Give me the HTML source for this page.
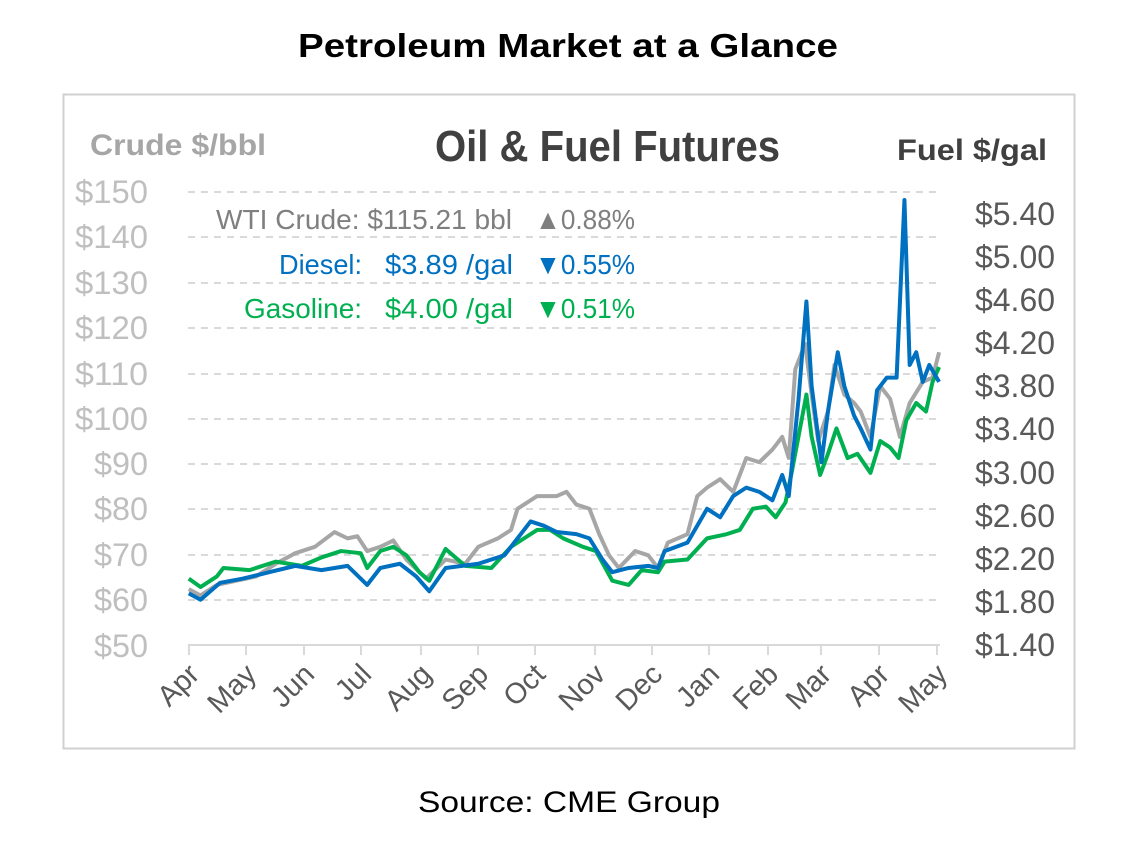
<!DOCTYPE html>
<html><head><meta charset="utf-8"><style>
body{margin:0;background:#fff;width:1147px;height:847px;overflow:hidden;font-family:"Liberation Sans",sans-serif}
</style></head><body>
<svg width="1147" height="847" xmlns="http://www.w3.org/2000/svg" style="position:absolute;left:0;top:0">
<text x="298" y="57" textLength="540" lengthAdjust="spacingAndGlyphs" font-family="Liberation Sans" font-weight="bold" font-size="33" fill="#000">Petroleum Market at a Glance</text>
<rect x="63.5" y="94.5" width="1011" height="654" fill="#fff" stroke="#d0d0d0" stroke-width="2"/>
<text x="435" y="161" textLength="345" lengthAdjust="spacingAndGlyphs" font-family="Liberation Sans" font-weight="bold" font-size="44" fill="#404040">Oil &amp; Fuel Futures</text>
<text x="90" y="155" textLength="176" lengthAdjust="spacingAndGlyphs" font-family="Liberation Sans" font-weight="bold" font-size="30" fill="#a6a6a6">Crude $/bbl</text>
<text x="897" y="160" textLength="150" lengthAdjust="spacingAndGlyphs" font-family="Liberation Sans" font-weight="bold" font-size="30" fill="#404040">Fuel $/gal</text>
<g stroke="#d9d9d9" stroke-width="2" stroke-dasharray="7,6">
<line x1="188" x2="940" y1="192" y2="192"/><line x1="188" x2="940" y1="237" y2="237"/><line x1="188" x2="940" y1="283" y2="283"/><line x1="188" x2="940" y1="328" y2="328"/><line x1="188" x2="940" y1="374" y2="374"/><line x1="188" x2="940" y1="419" y2="419"/><line x1="188" x2="940" y1="464" y2="464"/><line x1="188" x2="940" y1="509" y2="509"/><line x1="188" x2="940" y1="555" y2="555"/><line x1="188" x2="940" y1="600" y2="600"/>
</g>
<line x1="188" x2="940" y1="645" y2="645" stroke="#d9d9d9" stroke-width="2"/>
<g stroke="#d9d9d9" stroke-width="2">
<line x1="189" x2="189" y1="645" y2="655"/><line x1="246" x2="246" y1="645" y2="655"/><line x1="304" x2="304" y1="645" y2="655"/><line x1="361" x2="361" y1="645" y2="655"/><line x1="421" x2="421" y1="645" y2="655"/><line x1="478" x2="478" y1="645" y2="655"/><line x1="535" x2="535" y1="645" y2="655"/><line x1="595" x2="595" y1="645" y2="655"/><line x1="652" x2="652" y1="645" y2="655"/><line x1="709" x2="709" y1="645" y2="655"/><line x1="768" x2="768" y1="645" y2="655"/><line x1="821" x2="821" y1="645" y2="655"/><line x1="879" x2="879" y1="645" y2="655"/><line x1="937" x2="937" y1="645" y2="655"/>
</g>
<g font-family="Liberation Sans" font-size="32" fill="#bfbfbf">
<text x="75" y="203" textLength="73" lengthAdjust="spacingAndGlyphs">$150</text><text x="75" y="248" textLength="73" lengthAdjust="spacingAndGlyphs">$140</text><text x="75" y="294" textLength="73" lengthAdjust="spacingAndGlyphs">$130</text><text x="75" y="339" textLength="73" lengthAdjust="spacingAndGlyphs">$120</text><text x="75" y="385" textLength="73" lengthAdjust="spacingAndGlyphs">$110</text><text x="75" y="430" textLength="73" lengthAdjust="spacingAndGlyphs">$100</text>
<text x="94" y="475" textLength="54" lengthAdjust="spacingAndGlyphs">$90</text><text x="94" y="520" textLength="54" lengthAdjust="spacingAndGlyphs">$80</text><text x="94" y="566" textLength="54" lengthAdjust="spacingAndGlyphs">$70</text><text x="94" y="611" textLength="54" lengthAdjust="spacingAndGlyphs">$60</text><text x="94" y="657" textLength="54" lengthAdjust="spacingAndGlyphs">$50</text>
</g>
<g font-family="Liberation Sans" font-size="32" fill="#595959">
<text x="975" y="225" textLength="80" lengthAdjust="spacingAndGlyphs">$5.40</text><text x="975" y="268" textLength="80" lengthAdjust="spacingAndGlyphs">$5.00</text><text x="975" y="311" textLength="80" lengthAdjust="spacingAndGlyphs">$4.60</text><text x="975" y="354" textLength="80" lengthAdjust="spacingAndGlyphs">$4.20</text><text x="975" y="397" textLength="80" lengthAdjust="spacingAndGlyphs">$3.80</text><text x="975" y="440" textLength="80" lengthAdjust="spacingAndGlyphs">$3.40</text><text x="975" y="484" textLength="80" lengthAdjust="spacingAndGlyphs">$3.00</text><text x="975" y="527" textLength="80" lengthAdjust="spacingAndGlyphs">$2.60</text><text x="975" y="570" textLength="80" lengthAdjust="spacingAndGlyphs">$2.20</text><text x="975" y="613" textLength="80" lengthAdjust="spacingAndGlyphs">$1.80</text><text x="975" y="656" textLength="80" lengthAdjust="spacingAndGlyphs">$1.40</text>
</g>
<g font-family="Liberation Sans" font-size="29" fill="#595959" text-anchor="end">
<text transform="translate(201,676) rotate(-45)">Apr</text>
<text transform="translate(258,676) rotate(-45)">May</text>
<text transform="translate(316,676) rotate(-45)">Jun</text>
<text transform="translate(373,676) rotate(-45)">Jul</text>
<text transform="translate(433,676) rotate(-45)">Aug</text>
<text transform="translate(490,676) rotate(-45)">Sep</text>
<text transform="translate(547,676) rotate(-45)">Oct</text>
<text transform="translate(607,676) rotate(-45)">Nov</text>
<text transform="translate(664,676) rotate(-45)">Dec</text>
<text transform="translate(721,676) rotate(-45)">Jan</text>
<text transform="translate(780,676) rotate(-45)">Feb</text>
<text transform="translate(833,676) rotate(-45)">Mar</text>
<text transform="translate(891,676) rotate(-45)">Apr</text>
<text transform="translate(949,676) rotate(-45)">May</text>
</g>
<g font-family="Liberation Sans" font-size="28">
<text x="216" y="229" textLength="296" lengthAdjust="spacingAndGlyphs" fill="#7f7f7f">WTI Crude: $115.21 bbl</text>
<text x="535" y="229" textLength="100" lengthAdjust="spacingAndGlyphs" fill="#7f7f7f">▲0.88%</text>
<text x="279" y="274" textLength="83" lengthAdjust="spacingAndGlyphs" fill="#0070c0">Diesel:</text>
<text x="385" y="274" textLength="128" lengthAdjust="spacingAndGlyphs" fill="#0070c0">$3.89 /gal</text>
<text x="535" y="274" textLength="100" lengthAdjust="spacingAndGlyphs" fill="#0070c0">▼0.55%</text>
<text x="244" y="318" textLength="118" lengthAdjust="spacingAndGlyphs" fill="#00b050">Gasoline:</text>
<text x="385" y="318" textLength="128" lengthAdjust="spacingAndGlyphs" fill="#00b050">$4.00 /gal</text>
<text x="535" y="318" textLength="100" lengthAdjust="spacingAndGlyphs" fill="#00b050">▼0.51%</text>
</g>
<g transform="translate(60,90) scale(0.6536,0.4230)" fill="none" stroke-linejoin="round">
<polyline vector-effect="non-scaling-stroke" stroke="#a6a6a6" stroke-width="4" points="197,1180 215,1195 240,1170 270,1160 300,1150 330,1120 360,1095 390,1080 420,1045 440,1060 455,1055 470,1090 490,1080 510,1065 530,1110 560,1155 590,1110 620,1120 640,1080 670,1060 690,1040 700,990 730,960 760,960 775,950 790,980 810,990 825,1050 840,1100 855,1130 880,1090 900,1100 915,1130 930,1070 960,1050 975,960 990,940 1010,920 1030,950 1050,870 1070,880 1090,850 1105,820 1115,870 1125,660 1140,600 1150,720 1160,830 1175,760 1185,650 1200,720 1215,740 1225,760 1240,820 1255,700 1270,730 1285,820 1300,740 1320,690 1335,680 1345,620"/>
<polyline vector-effect="non-scaling-stroke" stroke="#00b050" stroke-width="4" points="197,1155 215,1175 240,1150 250,1130 290,1135 330,1115 370,1125 400,1105 430,1090 460,1095 470,1130 490,1090 510,1080 530,1100 550,1140 565,1160 590,1085 620,1125 660,1130 690,1080 710,1060 730,1040 750,1040 770,1060 800,1080 820,1090 845,1160 870,1170 890,1135 915,1140 925,1115 960,1110 990,1060 1020,1050 1040,1040 1060,990 1080,985 1095,1010 1110,975 1120,900 1142,720 1150,820 1163,910 1175,860 1188,800 1205,870 1220,860 1240,905 1255,830 1270,845 1283,870 1295,780 1310,740 1325,760 1335,690 1345,655"/>
<polyline vector-effect="non-scaling-stroke" stroke="#0070c0" stroke-width="4" points="197,1190 215,1205 245,1165 280,1155 320,1140 360,1125 400,1135 440,1125 470,1170 490,1130 520,1120 545,1150 565,1185 590,1130 640,1120 680,1100 700,1060 720,1020 740,1030 760,1045 790,1050 810,1060 830,1110 845,1140 870,1130 900,1125 915,1130 925,1090 960,1070 990,990 1010,1010 1030,960 1050,940 1070,950 1090,970 1105,910 1115,960 1130,730 1142,500 1150,700 1165,880 1175,760 1190,620 1200,700 1215,770 1225,800 1240,850 1250,710 1265,680 1280,680 1292,260 1300,650 1310,620 1320,690 1330,650 1345,690"/>
</g>
<text x="418" y="812" textLength="302" lengthAdjust="spacingAndGlyphs" font-family="Liberation Sans" font-size="30" fill="#000">Source: CME Group</text>
</svg>
</body></html>
